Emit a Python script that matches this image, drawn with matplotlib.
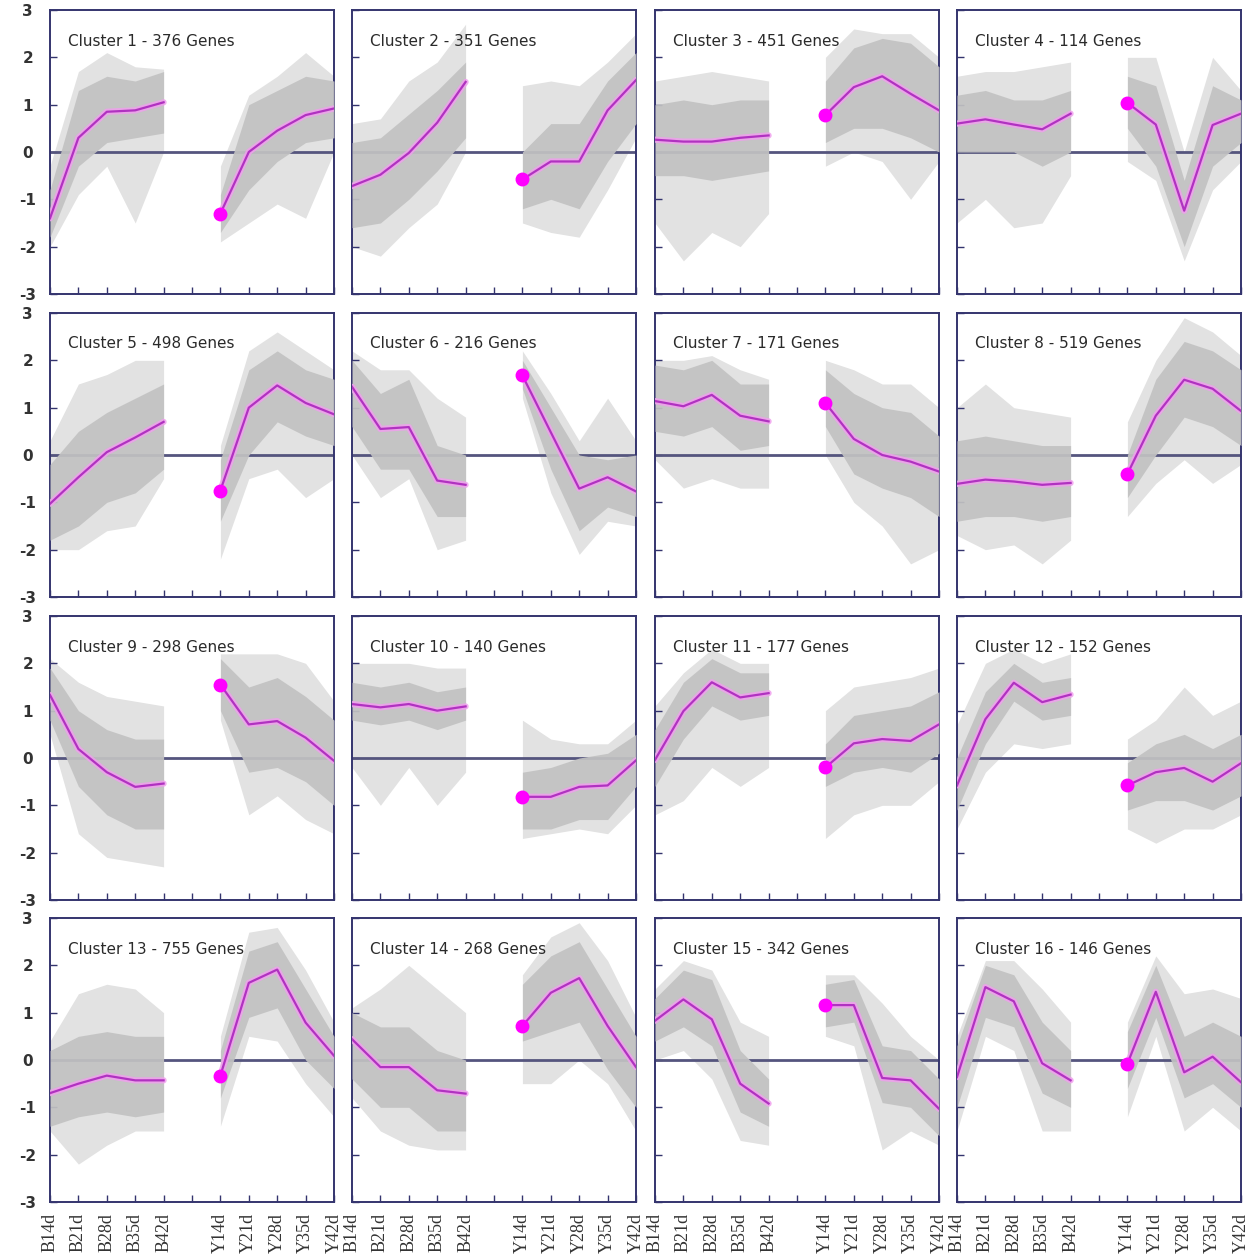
import numpy as np
import matplotlib
matplotlib.use('Agg')
from matplotlib import pyplot as plt

# time points; the gap between the B and Y series sits at x = 5
b_labels = ['B14d', 'B21d', 'B28d', 'B35d', 'B42d']
y_labels = ['Y14d', 'Y21d', 'Y28d', 'Y35d', 'Y42d']

cluster_ids = list(range(1, 17))
gene_counts = [376, 351, 451, 114, 498, 216, 171, 519,
               298, 140, 177, 152, 755, 268, 342, 146]

# cluster mean profile: 5 B values then 5 Y values
mean_profiles = [
    [-1.40, 0.30, 0.85, 0.88, 1.05, -1.30, 0.00, 0.45, 0.78, 0.92],
    [-0.72, -0.48, -0.02, 0.62, 1.48, -0.58, -0.20, -0.20, 0.88, 1.52],
    [0.26, 0.22, 0.22, 0.30, 0.35, 0.78, 1.37, 1.60, 1.23, 0.88],
    [0.60, 0.69, 0.58, 0.48, 0.81, 1.04, 0.58, -1.24, 0.57, 0.81],
    [-1.03, -0.47, 0.06, 0.37, 0.70, -0.75, 1.00, 1.47, 1.10, 0.86],
    [1.44, 0.55, 0.59, -0.54, -0.63, 1.68, 0.48, -0.71, -0.47, -0.77],
    [1.14, 1.03, 1.27, 0.83, 0.71, 1.10, 0.34, 0.00, -0.14, -0.35],
    [-0.61, -0.52, -0.56, -0.63, -0.59, -0.40, 0.83, 1.59, 1.40, 0.93],
    [1.33, 0.19, -0.30, -0.61, -0.54, 1.55, 0.71, 0.78, 0.43, -0.06],
    [1.14, 1.07, 1.14, 1.00, 1.09, -0.82, -0.82, -0.61, -0.58, -0.05],
    [-0.04, 0.99, 1.60, 1.28, 1.37, -0.20, 0.31, 0.40, 0.36, 0.71],
    [-0.58, 0.82, 1.59, 1.18, 1.34, -0.58, -0.30, -0.21, -0.50, -0.11],
    [-0.70, -0.50, -0.33, -0.43, -0.43, -0.33, 1.63, 1.91, 0.79, 0.09],
    [0.44, -0.15, -0.15, -0.64, -0.71, 0.72, 1.42, 1.73, 0.72, -0.15],
    [0.83, 1.28, 0.86, -0.50, -0.92, 1.16, 1.16, -0.38, -0.43, -1.03],
    [-0.36, 1.54, 1.24, -0.07, -0.43, -0.08, 1.44, -0.26, 0.07, -0.47],
]

# dense part of the gene bundle (low / high)
core_low = [
    [-1.8, -0.3, 0.2, 0.3, 0.4, -1.7, -0.8, -0.2, 0.2, 0.3],
    [-1.6, -1.5, -1.0, -0.4, 0.3, -1.2, -1.0, -1.2, -0.2, 0.6],
    [-0.5, -0.5, -0.6, -0.5, -0.4, 0.2, 0.5, 0.5, 0.3, 0.0],
    [0.0, 0.0, 0.0, -0.3, 0.0, 0.5, -0.3, -2.0, -0.3, 0.2],
    [-1.8, -1.5, -1.0, -0.8, -0.3, -1.4, 0.0, 0.7, 0.4, 0.2],
    [0.6, -0.3, -0.3, -1.3, -1.3, 1.4, -0.3, -1.6, -1.1, -1.3],
    [0.5, 0.4, 0.6, 0.1, 0.2, 0.6, -0.4, -0.7, -0.9, -1.3],
    [-1.4, -1.3, -1.3, -1.4, -1.3, -0.9, 0.0, 0.8, 0.6, 0.2],
    [0.8, -0.6, -1.2, -1.5, -1.5, 1.0, -0.3, -0.2, -0.5, -1.0],
    [0.8, 0.7, 0.8, 0.6, 0.8, -1.5, -1.5, -1.3, -1.3, -0.6],
    [-0.6, 0.4, 1.1, 0.8, 0.9, -0.6, -0.3, -0.2, -0.3, 0.1],
    [-1.1, 0.3, 1.2, 0.8, 0.9, -1.1, -0.9, -0.9, -1.1, -0.8],
    [-1.4, -1.2, -1.1, -1.2, -1.1, -0.8, 0.9, 1.1, 0.0, -0.6],
    [-0.4, -1.0, -1.0, -1.5, -1.5, 0.4, 0.6, 0.8, -0.2, -1.0],
    [0.4, 0.7, 0.3, -1.1, -1.4, 0.7, 0.8, -0.9, -1.0, -1.6],
    [-1.0, 0.9, 0.7, -0.7, -1.0, -0.6, 0.9, -0.8, -0.5, -1.0],
]
core_high = [
    [-0.8, 1.3, 1.6, 1.5, 1.7, -0.9, 1.0, 1.3, 1.6, 1.5],
    [0.2, 0.3, 0.8, 1.3, 1.9, 0.0, 0.6, 0.6, 1.5, 2.1],
    [1.0, 1.1, 1.0, 1.1, 1.1, 1.5, 2.2, 2.4, 2.3, 1.8],
    [1.2, 1.3, 1.1, 1.1, 1.3, 1.6, 1.4, -0.6, 1.4, 1.1],
    [-0.2, 0.5, 0.9, 1.2, 1.5, -0.1, 1.8, 2.2, 1.8, 1.6],
    [2.0, 1.3, 1.6, 0.2, 0.0, 2.0, 1.0, 0.0, -0.1, 0.0],
    [1.9, 1.8, 2.0, 1.5, 1.5, 1.8, 1.3, 1.0, 0.9, 0.4],
    [0.3, 0.4, 0.3, 0.2, 0.2, 0.0, 1.6, 2.4, 2.2, 1.8],
    [1.9, 1.0, 0.6, 0.4, 0.4, 2.1, 1.5, 1.7, 1.3, 0.8],
    [1.6, 1.5, 1.6, 1.4, 1.5, -0.3, -0.2, 0.0, 0.1, 0.5],
    [0.6, 1.6, 2.1, 1.8, 1.8, 0.3, 0.9, 1.0, 1.1, 1.4],
    [0.0, 1.4, 2.0, 1.6, 1.7, -0.1, 0.3, 0.5, 0.2, 0.5],
    [0.2, 0.5, 0.6, 0.5, 0.5, 0.2, 2.3, 2.5, 1.5, 0.5],
    [1.0, 0.7, 0.7, 0.2, 0.0, 1.6, 2.2, 2.5, 1.5, 0.5],
    [1.3, 1.9, 1.7, 0.2, -0.4, 1.6, 1.7, 0.3, 0.2, -0.4],
    [0.3, 2.0, 1.8, 0.8, 0.2, 0.6, 2.0, 0.5, 0.8, 0.5],
]
# faint outliers of the bundle (low / high)
outer_low = [
    [-2.0, -0.9, -0.3, -1.5, 0.0, -1.9, -1.5, -1.1, -1.4, 0.0],
    [-2.0, -2.2, -1.6, -1.1, 0.0, -1.5, -1.7, -1.8, -0.8, 0.3],
    [-1.5, -2.3, -1.7, -2.0, -1.3, -0.3, 0.0, -0.2, -1.0, -0.2],
    [-1.5, -1.0, -1.6, -1.5, -0.5, -0.2, -0.6, -2.3, -0.8, -0.2],
    [-2.0, -2.0, -1.6, -1.5, -0.5, -2.2, -0.5, -0.3, -0.9, -0.5],
    [0.0, -0.9, -0.5, -2.0, -1.8, 1.2, -0.8, -2.1, -1.4, -1.5],
    [-0.1, -0.7, -0.5, -0.7, -0.7, 0.0, -1.0, -1.5, -2.3, -2.0],
    [-1.7, -2.0, -1.9, -2.3, -1.8, -1.3, -0.6, -0.1, -0.6, -0.2],
    [0.5, -1.6, -2.1, -2.2, -2.3, 0.8, -1.2, -0.8, -1.3, -1.6],
    [-0.2, -1.0, -0.2, -1.0, -0.3, -1.7, -1.6, -1.5, -1.6, -1.0],
    [-1.2, -0.9, -0.2, -0.6, -0.2, -1.7, -1.2, -1.0, -1.0, -0.5],
    [-1.5, -0.3, 0.3, 0.2, 0.3, -1.5, -1.8, -1.5, -1.5, -1.2],
    [-1.5, -2.2, -1.8, -1.5, -1.5, -1.4, 0.5, 0.4, -0.5, -1.2],
    [-0.8, -1.5, -1.8, -1.9, -1.9, -0.5, -0.5, 0.0, -0.5, -1.5],
    [0.0, 0.2, -0.4, -1.7, -1.8, 0.5, 0.3, -1.9, -1.5, -1.8],
    [-1.5, 0.5, 0.2, -1.5, -1.5, -1.2, 0.5, -1.5, -1.0, -1.5],
]
outer_high = [
    [-0.3, 1.7, 2.1, 1.8, 1.75, -0.3, 1.2, 1.6, 2.1, 1.6],
    [0.6, 0.7, 1.5, 1.9, 2.7, 1.4, 1.5, 1.4, 1.9, 2.5],
    [1.5, 1.6, 1.7, 1.6, 1.5, 2.0, 2.6, 2.5, 2.5, 2.0],
    [1.6, 1.7, 1.7, 1.8, 1.9, 2.0, 2.0, 0.0, 2.0, 1.3],
    [0.3, 1.5, 1.7, 2.0, 2.0, 0.2, 2.2, 2.6, 2.2, 1.8],
    [2.2, 1.8, 1.8, 1.2, 0.8, 2.2, 1.3, 0.3, 1.2, 0.3],
    [2.0, 2.0, 2.1, 1.8, 1.6, 2.0, 1.8, 1.5, 1.5, 1.0],
    [1.0, 1.5, 1.0, 0.9, 0.8, 0.7, 2.0, 2.9, 2.6, 2.1],
    [2.1, 1.6, 1.3, 1.2, 1.1, 2.2, 2.2, 2.2, 2.0, 1.2],
    [2.0, 2.0, 2.0, 1.9, 1.9, 0.8, 0.4, 0.3, 0.3, 0.8],
    [1.1, 1.8, 2.3, 2.0, 2.0, 1.0, 1.5, 1.6, 1.7, 1.9],
    [0.7, 2.0, 2.3, 2.0, 2.2, 0.4, 0.8, 1.5, 0.9, 1.2],
    [0.4, 1.4, 1.6, 1.5, 1.0, 0.5, 2.7, 2.8, 1.9, 0.8],
    [1.1, 1.5, 2.0, 1.5, 1.0, 1.8, 2.6, 2.9, 2.1, 0.9],
    [1.5, 2.1, 1.9, 0.8, 0.5, 1.8, 1.8, 1.2, 0.5, 0.0],
    [0.5, 2.1, 2.1, 1.5, 0.8, 0.8, 2.2, 1.4, 1.5, 1.3],
]

# layout in pixels of the original figure
W, H = 1256, 1260
col_left = [50, 352, 655, 957]
row_top = [10, 313, 616, 918]
ax_w, ax_h = 284, 284

frame_col = '#34346e'
zero_col = '#55557e'

fig = plt.figure(figsize=(W / 100, H / 100), dpi=100)

xb = np.arange(5)
xy = np.arange(6, 11)

for i, cid in enumerate(cluster_ids):
    r, c = divmod(i, 4)
    ax = fig.add_axes([col_left[c] / W, 1 - (row_top[r] + ax_h) / H,
                       ax_w / W, ax_h / H])
    m = np.array(mean_profiles[i])
    cl = np.array(core_low[i]); ch = np.array(core_high[i])
    ol = np.array(outer_low[i]); oh = np.array(outer_high[i])

    for xs, sl in ((xb, slice(0, 5)), (xy, slice(5, 10))):
        ax.fill_between(xs, ol[sl], oh[sl], color='#e2e2e2', lw=0, zorder=1)
        ax.fill_between(xs, cl[sl], ch[sl], color='#c2c2c2', lw=0,
                        alpha=0.92, zorder=3)
        ax.plot(xs, m[sl], color='#f0a0ee', lw=4.5, alpha=0.85,
                solid_capstyle='round', zorder=4)
        ax.plot(xs, m[sl], color='#b032c0', lw=1.6, zorder=5)
    ax.plot(6, m[5], 'o', color='#ff00ff', ms=9, mec='#ff00ff', zorder=6)

    ax.axhline(0, color=zero_col, lw=2, zorder=2)

    ax.set_xlim(0, 10)
    ax.set_ylim(-3, 3)
    for s in ax.spines.values():
        s.set_color(frame_col)
        s.set_linewidth(1.4)

    ax.set_yticks([-3, -2, -1, 0, 1, 2, 3])
    ax.set_xticks(range(11))
    ax.tick_params(direction='in', length=5, width=1, color=frame_col,
                   top=False, right=False)
    if c == 0:
        ax.set_yticklabels([str(v) for v in range(-3, 4)], fontsize=11,
                           fontweight='bold', color='#333333',
                           family='DejaVu Sans')
        ax.tick_params(axis='y', pad=16)
        for t in ax.get_yticklabels():
            t.set_horizontalalignment('center')
    else:
        ax.set_yticklabels([])
    if r == 3:
        ax.set_xticklabels(b_labels + [''] + y_labels, rotation=90,
                           fontsize=13, family='Liberation Serif',
                           color='#333333')
        ax.tick_params(axis='x', pad=8)
    else:
        ax.set_xticklabels([])

    ax.text(18 / ax_w, 1 - 31 / ax_h, 'Cluster %d - %d Genes' % (cid, gene_counts[i]),
            transform=ax.transAxes, ha='left', va='center', fontsize=11,
            family='DejaVu Sans', color='#2a2a2a', zorder=7)

fig.savefig('out.png', dpi=100)
